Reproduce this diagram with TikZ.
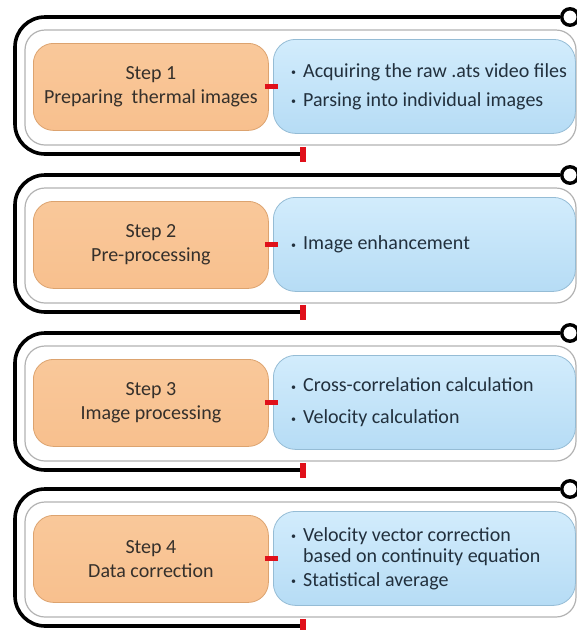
\documentclass[tikz,border=0pt]{standalone}
\usepackage{fontspec}
\setmainfont{Carlito}
\definecolor{orfill}{HTML}{F8C08E}
\definecolor{orfillt}{HTML}{F9C89A}
\definecolor{ordraw}{HTML}{DCA36F}
\definecolor{blfillt}{HTML}{D2ECFC}
\definecolor{blfillb}{HTML}{B6DCF5}
\definecolor{bldraw}{HTML}{95BCD5}
\definecolor{ortext}{HTML}{35302B}
\definecolor{bltext}{HTML}{22303D}
\definecolor{redmk}{HTML}{E0101A}
\newcommand\bul{\makebox[16pt][l]{\hspace{4pt}\raisebox{1.5pt}{\scalebox{0.5}{\textbullet}}}}
\tikzset{
  blackline/.style={line width=3.6pt, draw=black, rounded corners=30pt},
  frameline/.style={draw=black!30, line width=1.2pt, rounded corners=20pt},
  orbox/.style={draw=ordraw, line width=0.8pt, top color=orfillt, bottom color=orfill,
    rounded corners=20pt, minimum width=235pt, minimum height=87pt, anchor=north west,
    align=center, font=\fontsize{20}{24}\selectfont, text=ortext, inner sep=0pt},
  blbox/.style={draw=bldraw, line width=0.8pt, top color=blfillt, bottom color=blfillb,
    rounded corners=22pt, minimum width=302pt, minimum height=94pt, anchor=north west,
    inner sep=0pt},
  bltxt/.style={anchor=west, align=left, inner sep=0pt, text=bltext,
    font=\fontsize{20}{24}\selectfont},
  endcirc/.style={circle, draw=black, line width=3.4pt, fill=white, minimum size=16.5pt, inner sep=0pt},
  redmark/.style={draw=redmk, line width=5pt},
  redtick/.style={fill=redmk, draw=none, minimum width=6pt, minimum height=15pt, inner sep=0pt},
}
\newcommand\mkstep[4]{%
  \draw[frameline] (25,#1+13) rectangle (576,#1+128);
  \node[orbox] (o#2) at (33,#1+26) {#3};
  \node[blbox] (b#2) at (273,#1+22) {};
  \node[bltxt] (l#2) at ([xshift=14pt]b#2.west) {#4};
  \node[endcirc] (c#2) at (570,#1) {};
  \coordinate (e#2) at (303,#1+137);
  \draw[blackline] (c#2.west) -- (15,#1) -- (15,#1+137) -- (e#2);
  \node[redtick] (t#2) at (e#2) {};
  \draw[redmark] ([xshift=-4pt]o#2.east) -- ([xshift=5pt]b#2.west |- o#2.east);
}
\begin{document}
\begin{tikzpicture}[x=1pt,y=-1pt]
\useasboundingbox (0,0) rectangle (577,630);
\mkstep{17}{1}{Step 1\\Preparing~ thermal images}{\bul Acquiring the raw .ats video files\\[5pt]\bul Parsing into individual images}
\mkstep{175}{2}{Step 2\\Pre-processing}{\bul Image enhancement}
\mkstep{333}{3}{Step 3\\Image processing}{\bul Cross-correlation calculation\\[8pt]\bul Velocity calculation}
\mkstep{489}{4}{Step 4\\Data correction}{\bul Velocity vector correction\\[-3pt]\hspace*{16pt}based on continuity equation\\\bul Statistical average}
\end{tikzpicture}
\end{document}
